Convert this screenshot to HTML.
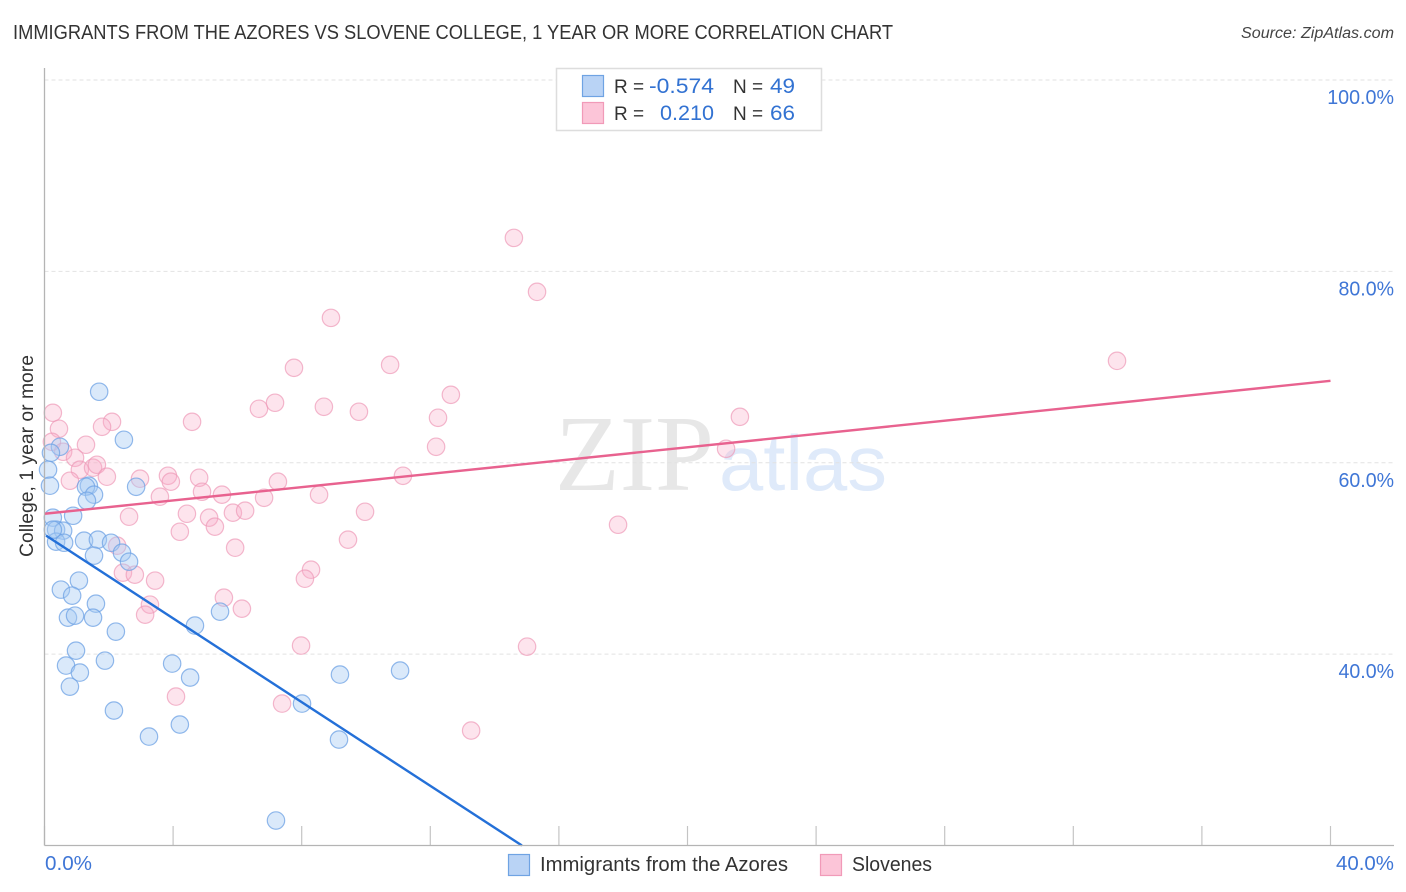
<!DOCTYPE html>
<html lang="en">
<head>
<meta charset="utf-8">
<title>Immigrants from the Azores vs Slovene College, 1 Year or More Correlation Chart</title>
<style>
html,body{margin:0;padding:0;background:#fff;}
svg{display:block;font-family:"Liberation Sans",sans-serif;}
</style>
</head>
<body>
<svg id="chart" xmlns="http://www.w3.org/2000/svg" width="1406" height="892" viewBox="0 0 1406 892">
  <rect x="0" y="0" width="1406" height="892" fill="#ffffff"/>
  <text x="13" y="39" font-size="20" fill="#333" textLength="880" lengthAdjust="spacingAndGlyphs">IMMIGRANTS FROM THE AZORES VS SLOVENE COLLEGE, 1 YEAR OR MORE CORRELATION CHART</text>
  <text x="1241" y="38" font-size="15.5" font-style="italic" fill="#444" textLength="153" lengthAdjust="spacingAndGlyphs">Source: ZipAtlas.com</text>
  <g>
    <text x="555" y="490" font-family="'Liberation Serif',serif" font-size="108" fill="#e7e7e7" textLength="159" lengthAdjust="spacingAndGlyphs">ZIP</text>
    <text x="719" y="490" font-size="78" fill="#dfeafa" textLength="168" lengthAdjust="spacingAndGlyphs">atlas</text>
  </g>
  <g id="grid"></g>
  <g id="pink-points"></g>
  <g id="blue-points"></g>
  <g id="lines"></g>
  <g id="axes"></g>
  <text transform="translate(33,557) rotate(-90)" font-size="19" fill="#333" textLength="202" lengthAdjust="spacingAndGlyphs">College, 1 year or more</text>
  <g>
    <rect x="556.5" y="68.5" width="265" height="62" fill="#ffffff" stroke="#dddddd" stroke-width="1.5"/>
    <rect x="582.5" y="75.5" width="21" height="21" fill="#b9d3f5" stroke="#6fa3e3" stroke-width="1.2"/>
    <rect x="582.5" y="102.5" width="21" height="21" fill="#fcc5d8" stroke="#f19ab8" stroke-width="1.2"/>
    <text x="614" y="93" font-size="19" fill="#333">R =</text>
    <text x="649" y="93" font-size="21.5" fill="#3272d2" textLength="65" lengthAdjust="spacingAndGlyphs">-0.574</text>
    <text x="733" y="93" font-size="19" fill="#333">N =</text>
    <text x="770" y="93" font-size="21.5" fill="#3272d2" textLength="25" lengthAdjust="spacingAndGlyphs">49</text>
    <text x="614" y="120" font-size="19" fill="#333">R =</text>
    <text x="660" y="120" font-size="21.5" fill="#3272d2" textLength="54" lengthAdjust="spacingAndGlyphs">0.210</text>
    <text x="733" y="120" font-size="19" fill="#333">N =</text>
    <text x="770" y="120" font-size="21.5" fill="#3272d2" textLength="25" lengthAdjust="spacingAndGlyphs">66</text>
  </g>
  <g>
    <rect x="508.5" y="854.5" width="21" height="21" fill="#b9d3f5" stroke="#6fa3e3" stroke-width="1.2"/>
    <text x="540" y="871" font-size="20" fill="#333" textLength="248" lengthAdjust="spacingAndGlyphs">Immigrants from the Azores</text>
    <rect x="820.5" y="854.5" width="21" height="21" fill="#fcc5d8" stroke="#f19ab8" stroke-width="1.2"/>
    <text x="852" y="871" font-size="20" fill="#333" textLength="80" lengthAdjust="spacingAndGlyphs">Slovenes</text>
  </g>
</svg>
<script>
var azoresX = [1.70,2.47,0.48,0.20,0.11,0.17,1.38,1.29,1.54,1.32,2.85,0.89,0.26,0.36,0.58,0.36,0.61,1.23,1.66,2.07,2.41,2.63,1.54,1.07,0.51,0.86,1.60,0.73,0.95,1.51,2.22,0.98,0.67,1.10,1.88,0.79,2.16,3.25,4.21,3.97,4.53,4.68,5.46,8.01,9.16,9.19,11.06,7.20,0.26];
var azoresY = [67.42,62.40,61.67,61.04,59.27,57.60,57.60,57.49,56.66,56.03,57.49,54.46,54.26,53.00,52.90,51.75,51.64,51.85,51.96,51.64,50.60,49.66,50.29,47.68,46.74,46.11,45.27,43.81,44.02,43.81,42.35,40.36,38.80,38.07,39.32,36.60,34.10,31.38,32.64,39.01,37.55,42.98,44.44,34.83,31.07,37.86,38.28,22.61,53.00];
var slovenesX = [0.26,0.45,0.23,0.58,1.29,2.10,1.79,4.59,0.95,1.10,1.51,1.63,1.94,0.79,2.97,3.84,3.93,4.81,4.90,3.59,5.52,2.63,4.43,5.12,5.30,4.21,5.86,6.24,5.93,2.26,2.44,2.81,3.44,3.28,3.13,5.58,6.14,14.60,15.32,8.91,7.76,10.75,6.67,7.17,8.69,9.78,12.64,12.24,12.18,21.63,21.20,33.36,11.15,7.26,6.83,8.54,9.97,9.44,8.29,8.10,17.84,7.98,15.01,7.39,4.09,13.27];
var slovenesY = [65.22,63.55,62.19,61.15,61.88,64.28,63.76,64.28,60.52,59.27,59.48,59.79,58.54,58.12,58.33,58.64,58.02,58.43,56.97,56.45,56.66,54.36,54.67,54.26,53.32,52.79,54.78,54.99,51.12,51.33,48.51,48.30,47.68,45.17,44.12,45.90,44.75,83.50,77.86,75.14,69.92,70.23,65.64,66.27,65.85,65.33,67.10,64.70,61.67,64.80,61.46,70.65,58.64,58.02,56.34,56.66,54.88,51.96,48.82,47.88,53.52,40.89,40.78,34.83,35.56,32.01];
var azoresTrendX = [0.05,14.85];
var azoresTrendY = [52.38,20.0];
var slovenesTrendX = [0,40];
var slovenesTrendY = [54.67,68.56];
var yTicks = [100,80,60,40];
var yTickLabels = ["100.0%","80.0%","60.0%","40.0%"];
var xTicks = [0,4,8,12,16,20,24,28,32,36,40];
var xEndTicks = [0,40];
var xEndLabels = ["0.0%","40.0%"];

var NS = "http://www.w3.org/2000/svg";
var PLOT = {x0:44.5, x40:1330.5, y100:80, y20:845.5, right:1394, top:68};
function sx(v){ return PLOT.x0 + (PLOT.x40 - PLOT.x0) * v / 40; }
function sy(v){ return PLOT.y100 + (PLOT.y20 - PLOT.y100) * (100 - v) / 80; }
function mk(tag, parent, attrs){
  var el = document.createElementNS(NS, tag);
  for (var k in attrs) el.setAttribute(k, attrs[k]);
  parent.appendChild(el);
  return el;
}
var grid = document.getElementById("grid");
var axes = document.getElementById("axes");
var lines = document.getElementById("lines");
var blueG = document.getElementById("blue-points");
var pinkG = document.getElementById("pink-points");

yTicks.forEach(function(v, i){
  var g = mk("line", grid, {x1:PLOT.x0, x2:PLOT.right, y1:sy(v), y2:sy(v), stroke:"#e2e2e2", "stroke-width":1, "stroke-dasharray":"4 3"});
  
  
  var t = mk("text", axes, {x:PLOT.right, y:sy(v)+24, "font-size":20, fill:"#3f76d6", "text-anchor":"end", textLength: yTickLabels[i].length * 11.3 - 1, lengthAdjust:"spacingAndGlyphs"});
  t.textContent = yTickLabels[i];
  
  
});

slovenesX.forEach(function(v, i){
  var c = mk("circle", pinkG, {cx:sx(v), cy:sy(slovenesY[i]), r:8.7, fill:"#f8aac6", "fill-opacity":0.32, stroke:"#ee9ab8", "stroke-opacity":0.7, "stroke-width":1.2});
  
  
});
azoresX.forEach(function(v, i){
  var c = mk("circle", blueG, {cx:sx(v), cy:sy(azoresY[i]), r:8.7, fill:"#a6caf4", "fill-opacity":0.42, stroke:"#6ea2e4", "stroke-opacity":0.75, "stroke-width":1.2});
  
  
});

var l1 = mk("line", lines, {x1:sx(slovenesTrendX[0]), y1:sy(slovenesTrendY[0]), x2:sx(slovenesTrendX[1]), y2:sy(slovenesTrendY[1]), stroke:"#e8628f", "stroke-width":2.4});


var l2 = mk("line", lines, {x1:sx(azoresTrendX[0]), y1:sy(azoresTrendY[0]), x2:sx(azoresTrendX[1]), y2:sy(azoresTrendY[1]), stroke:"#2470d8", "stroke-width":2.4});



xTicks.forEach(function(v){
  var t = mk("line", axes, {x1:sx(v), x2:sx(v), y1:PLOT.y20-19.5, y2:PLOT.y20, stroke:"#c4c4c4", "stroke-width":1.2});
  
  
});
var ax = mk("line", axes, {x1:PLOT.x0, x2:PLOT.right, y1:PLOT.y20, y2:PLOT.y20, stroke:"#b4b4b4", "stroke-width":1.3});


var ay = mk("line", axes, {x1:PLOT.x0, x2:PLOT.x0, y1:PLOT.top, y2:PLOT.y20, stroke:"#b4b4b4", "stroke-width":1.3});


xEndTicks.forEach(function(v, i){
  var t = mk("text", axes, {x: i === 0 ? 45 : PLOT.right, y:870, "font-size":20, fill:"#3f76d6", "text-anchor": i === 0 ? "start" : "end", textLength: i === 0 ? 47 : 58, lengthAdjust:"spacingAndGlyphs"});
  t.textContent = xEndLabels[i];
  
  
});
</script>
</body>
</html>
